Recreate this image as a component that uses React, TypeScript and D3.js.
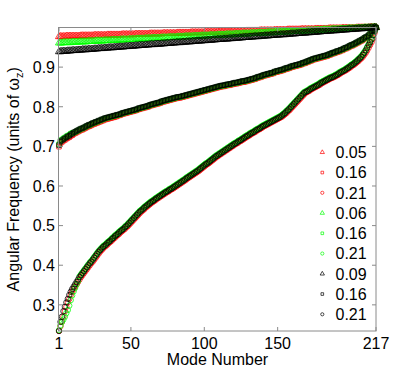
import React from 'react'
import * as d3 from 'd3'

// values are in units of 0.001 omega_z, one per mode (1..217)
const redTriangle = [
  977, 977, 977, 977, 977, 978, 978, 978, 978, 978, 978, 978, 978, 978, 978, 979, 979, 979, 979, 979,
  979, 979, 979, 979, 980, 980, 980, 980, 980, 980, 980, 980, 980, 981, 981, 981, 981, 981, 981, 981,
  981, 981, 981, 982, 982, 982, 982, 982, 982, 982, 982, 982, 983, 983, 983, 983, 983, 983, 983, 983,
  983, 983, 984, 984, 984, 984, 984, 984, 984, 984, 984, 985, 985, 985, 985, 985, 985, 985, 985, 985,
  985, 986, 986, 986, 986, 986, 986, 986, 986, 986, 987, 987, 987, 987, 987, 987, 987, 987, 987, 987,
  988, 988, 988, 988, 988, 988, 988, 988, 989, 989, 989, 989, 989, 989, 989, 989, 989, 989, 990, 990,
  990, 990, 990, 990, 990, 990, 990, 990, 991, 991, 991, 991, 991, 991, 991, 991, 991, 992, 992, 992,
  992, 992, 992, 992, 992, 992, 992, 993, 993, 993, 993, 993, 993, 993, 993, 993, 994, 994, 994, 994,
  994, 994, 994, 994, 994, 995, 995, 995, 995, 995, 995, 995, 995, 995, 995, 996, 996, 996, 996, 996,
  996, 996, 996, 996, 997, 997, 997, 997, 997, 997, 997, 997, 997, 998, 998, 998, 998, 998, 998, 998,
  998, 998, 998, 999, 999, 999, 999, 999, 999, 999, 999, 999, 1000, 1000, 1000, 1000, 1000,
]
const redSquare = [
  699, 708, 711, 714, 716, 719, 721, 723, 726, 728, 731, 733, 735, 737, 739, 741, 742, 744, 746, 748,
  750, 751, 753, 755, 756, 758, 759, 761, 762, 764, 765, 767, 768, 769, 770, 771, 772, 773, 774, 775,
  777, 778, 779, 781, 782, 783, 784, 785, 786, 787, 788, 789, 790, 791, 793, 794, 795, 796, 797, 798,
  799, 800, 802, 803, 804, 805, 806, 807, 808, 809, 811, 812, 813, 814, 815, 816, 817, 818, 819, 820,
  821, 822, 822, 823, 824, 825, 826, 827, 828, 829, 830, 831, 832, 833, 834, 835, 836, 837, 838, 839,
  840, 841, 842, 843, 844, 845, 846, 847, 848, 849, 850, 851, 851, 852, 853, 854, 854, 855, 856, 857,
  858, 858, 859, 860, 861, 862, 862, 863, 864, 865, 866, 867, 868, 869, 870, 872, 873, 874, 875, 877,
  878, 879, 880, 881, 882, 883, 884, 886, 887, 888, 889, 890, 891, 892, 894, 895, 896, 897, 899, 900,
  901, 902, 903, 904, 905, 906, 908, 909, 910, 912, 913, 915, 916, 918, 919, 920, 921, 922, 923, 924,
  925, 926, 927, 928, 930, 931, 933, 934, 935, 937, 938, 939, 941, 942, 944, 946, 947, 949, 951, 953,
  954, 956, 958, 960, 962, 964, 966, 968, 971, 973, 975, 978, 982, 987, 991, 995, 1000,
]
const redCircle = [
  234, 246, 257, 270, 284, 295, 306, 315, 325, 333, 340, 346, 352, 358, 364, 370, 375, 380, 385, 390,
  395, 400, 405, 409, 414, 419, 424, 429, 434, 438, 442, 446, 449, 452, 456, 459, 462, 466, 469, 473,
  476, 479, 483, 486, 489, 492, 496, 499, 503, 507, 511, 515, 519, 523, 527, 531, 535, 538, 541, 545,
  548, 551, 554, 557, 560, 562, 565, 568, 570, 573, 575, 578, 580, 583, 585, 587, 590, 592, 594, 597,
  599, 602, 604, 607, 609, 612, 614, 617, 620, 622, 625, 627, 630, 632, 635, 637, 640, 643, 646, 649,
  652, 655, 657, 660, 663, 666, 669, 672, 675, 677, 680, 682, 685, 687, 690, 692, 695, 697, 700, 702,
  705, 707, 709, 712, 714, 716, 719, 721, 724, 726, 728, 731, 733, 735, 737, 740, 742, 744, 746, 749,
  751, 753, 755, 757, 759, 761, 763, 765, 767, 769, 771, 773, 775, 778, 781, 784, 788, 791, 795, 799,
  803, 807, 811, 815, 819, 823, 827, 831, 835, 837, 839, 841, 844, 846, 848, 850, 852, 854, 856, 859,
  861, 863, 865, 867, 869, 871, 873, 874, 876, 878, 880, 882, 885, 887, 889, 891, 893, 896, 898, 901,
  904, 906, 909, 912, 915, 919, 922, 926, 931, 936, 942, 949, 956, 963, 972, 986, 1000,
]
const greenTriangle = [
  961, 961, 961, 962, 962, 962, 962, 962, 962, 963, 963, 963, 963, 963, 964, 964, 964, 964, 964, 964,
  965, 965, 965, 965, 965, 966, 966, 966, 966, 966, 966, 967, 967, 967, 967, 967, 968, 968, 968, 968,
  968, 968, 969, 969, 969, 969, 969, 969, 970, 970, 970, 970, 970, 971, 971, 971, 971, 971, 971, 972,
  972, 972, 972, 972, 973, 973, 973, 973, 973, 973, 974, 974, 974, 974, 974, 975, 975, 975, 975, 975,
  975, 976, 976, 976, 976, 976, 977, 977, 977, 977, 977, 977, 978, 978, 978, 978, 978, 979, 979, 979,
  979, 979, 979, 980, 980, 980, 980, 980, 981, 981, 981, 981, 981, 981, 982, 982, 982, 982, 982, 982,
  983, 983, 983, 983, 983, 984, 984, 984, 984, 984, 984, 985, 985, 985, 985, 985, 986, 986, 986, 986,
  986, 986, 987, 987, 987, 987, 987, 988, 988, 988, 988, 988, 988, 989, 989, 989, 989, 989, 990, 990,
  990, 990, 990, 990, 991, 991, 991, 991, 991, 992, 992, 992, 992, 992, 992, 993, 993, 993, 993, 993,
  994, 994, 994, 994, 994, 994, 995, 995, 995, 995, 995, 995, 996, 996, 996, 996, 996, 997, 997, 997,
  997, 997, 997, 998, 998, 998, 998, 998, 999, 999, 999, 999, 999, 999, 1000, 1000, 1000,
]
const greenSquare = [
  705, 714, 717, 720, 722, 725, 727, 729, 732, 734, 734, 736, 738, 740, 742, 744, 745, 747, 749, 751,
  753, 754, 756, 758, 759, 761, 762, 764, 765, 767, 768, 770, 771, 772, 773, 774, 775, 776, 777, 778,
  779, 780, 781, 783, 784, 785, 786, 787, 788, 789, 790, 791, 792, 793, 795, 796, 797, 798, 799, 800,
  801, 802, 804, 805, 806, 807, 808, 809, 810, 811, 813, 814, 815, 816, 817, 818, 819, 820, 821, 822,
  823, 824, 824, 825, 826, 827, 828, 829, 830, 831, 832, 833, 834, 835, 836, 837, 838, 839, 840, 841,
  842, 843, 844, 845, 846, 847, 848, 849, 850, 851, 852, 853, 853, 854, 855, 856, 856, 857, 858, 859,
  860, 860, 861, 862, 863, 864, 864, 865, 866, 867, 868, 869, 870, 871, 872, 874, 875, 876, 877, 879,
  880, 881, 882, 883, 884, 885, 886, 888, 889, 890, 891, 892, 893, 894, 896, 897, 898, 899, 901, 902,
  903, 904, 905, 906, 907, 908, 910, 911, 912, 914, 915, 917, 918, 920, 921, 922, 923, 924, 925, 926,
  927, 928, 929, 930, 932, 933, 935, 936, 937, 939, 940, 941, 943, 944, 946, 948, 949, 951, 953, 955,
  956, 958, 960, 962, 964, 966, 968, 970, 973, 975, 977, 980, 984, 989, 992, 996, 1000,
]
const greenCircle = [
  236, 248, 257, 263, 270, 279, 287, 298, 312, 324, 334, 343, 352, 360, 372, 377, 382, 387, 392, 397,
  402, 407, 411, 416, 421, 426, 431, 436, 440, 444, 448, 451, 454, 458, 461, 464, 468, 471, 475, 478,
  481, 485, 488, 491, 494, 498, 501, 505, 509, 513, 517, 521, 525, 529, 533, 537, 540, 543, 547, 550,
  553, 556, 559, 562, 564, 567, 570, 572, 575, 577, 580, 582, 585, 587, 589, 592, 594, 596, 599, 601,
  604, 606, 609, 611, 614, 616, 619, 622, 624, 627, 629, 632, 634, 637, 639, 642, 645, 648, 651, 654,
  657, 659, 662, 665, 668, 671, 674, 677, 679, 682, 684, 687, 689, 692, 694, 697, 699, 702, 704, 707,
  709, 711, 714, 716, 718, 721, 723, 726, 728, 730, 733, 735, 737, 739, 742, 744, 746, 748, 751, 753,
  755, 757, 759, 761, 763, 765, 767, 769, 771, 773, 775, 777, 780, 783, 786, 790, 793, 797, 801, 805,
  809, 813, 817, 821, 825, 829, 833, 837, 839, 841, 843, 846, 848, 850, 852, 854, 856, 858, 861, 863,
  865, 867, 869, 871, 873, 875, 876, 878, 880, 882, 884, 887, 889, 891, 893, 895, 898, 900, 903, 906,
  908, 911, 914, 917, 921, 924, 928, 933, 938, 944, 951, 958, 965, 972, 981, 991, 1000,
]
const blackTriangle = [
  939, 939, 940, 940, 940, 940, 941, 941, 941, 942, 942, 942, 942, 943, 943, 943, 944, 944, 944, 944,
  945, 945, 945, 945, 946, 946, 946, 947, 947, 947, 947, 948, 948, 948, 949, 949, 949, 949, 950, 950,
  950, 951, 951, 951, 951, 952, 952, 952, 953, 953, 953, 953, 954, 954, 954, 955, 955, 955, 955, 956,
  956, 956, 957, 957, 957, 957, 958, 958, 958, 958, 959, 959, 959, 960, 960, 960, 960, 961, 961, 961,
  962, 962, 962, 962, 963, 963, 963, 964, 964, 964, 964, 965, 965, 965, 966, 966, 966, 966, 967, 967,
  967, 968, 968, 968, 968, 969, 969, 969, 970, 970, 970, 970, 971, 971, 971, 971, 972, 972, 972, 973,
  973, 973, 973, 974, 974, 974, 975, 975, 975, 975, 976, 976, 976, 977, 977, 977, 977, 978, 978, 978,
  979, 979, 979, 979, 980, 980, 980, 981, 981, 981, 981, 982, 982, 982, 982, 983, 983, 983, 984, 984,
  984, 984, 985, 985, 985, 986, 986, 986, 986, 987, 987, 987, 988, 988, 988, 988, 989, 989, 989, 990,
  990, 990, 990, 991, 991, 991, 992, 992, 992, 992, 993, 993, 993, 994, 994, 994, 994, 995, 995, 995,
  995, 996, 996, 996, 997, 997, 997, 997, 998, 998, 998, 999, 999, 999, 999, 1000, 1000,
]
const blackSquare = [
  703, 712, 715, 718, 720, 723, 725, 727, 730, 732, 735, 737, 739, 741, 743, 745, 746, 748, 750, 752,
  754, 755, 757, 759, 760, 762, 763, 765, 766, 768, 769, 771, 772, 773, 774, 775, 776, 777, 778, 779,
  780, 781, 782, 784, 785, 786, 787, 788, 789, 790, 791, 792, 793, 794, 796, 797, 798, 799, 800, 801,
  802, 803, 805, 806, 807, 808, 809, 810, 811, 812, 814, 815, 816, 817, 818, 819, 820, 821, 822, 823,
  824, 825, 825, 826, 827, 828, 829, 830, 831, 832, 833, 834, 835, 836, 837, 838, 839, 840, 841, 842,
  843, 844, 845, 846, 847, 848, 849, 850, 851, 852, 853, 854, 854, 855, 856, 857, 857, 858, 859, 860,
  861, 861, 862, 863, 864, 865, 865, 866, 867, 868, 869, 870, 871, 872, 873, 875, 876, 877, 878, 880,
  881, 882, 883, 884, 885, 886, 887, 889, 890, 891, 892, 893, 894, 895, 897, 898, 899, 900, 902, 903,
  904, 905, 906, 907, 908, 909, 911, 912, 913, 915, 916, 918, 919, 921, 922, 923, 924, 925, 926, 927,
  928, 929, 930, 931, 933, 934, 936, 937, 938, 940, 941, 942, 944, 945, 947, 949, 950, 952, 954, 956,
  957, 959, 961, 963, 965, 967, 969, 971, 974, 976, 978, 981, 985, 990, 993, 996, 1000,
]
const blackCircle = [
  234, 257, 270, 284, 295, 306, 315, 325, 333, 340, 346, 352, 358, 364, 370, 375, 380, 385, 390, 395,
  400, 405, 409, 414, 419, 424, 429, 434, 438, 442, 446, 449, 452, 456, 459, 462, 466, 469, 473, 476,
  479, 483, 486, 489, 492, 496, 499, 503, 507, 511, 515, 519, 523, 527, 531, 535, 538, 541, 545, 548,
  551, 554, 557, 560, 562, 565, 568, 570, 573, 575, 578, 580, 583, 585, 587, 590, 592, 594, 597, 599,
  602, 604, 607, 609, 612, 614, 617, 620, 622, 625, 627, 630, 632, 635, 637, 640, 643, 646, 649, 652,
  655, 657, 660, 663, 666, 669, 672, 675, 677, 680, 682, 685, 687, 690, 692, 695, 697, 700, 702, 705,
  707, 709, 712, 714, 716, 719, 721, 724, 726, 728, 731, 733, 735, 737, 740, 742, 744, 746, 749, 751,
  753, 755, 757, 759, 761, 763, 765, 767, 769, 771, 773, 775, 778, 781, 784, 788, 791, 795, 799, 803,
  807, 811, 815, 819, 823, 827, 831, 835, 837, 839, 841, 844, 846, 848, 850, 852, 854, 856, 859, 861,
  863, 865, 867, 869, 871, 873, 874, 876, 878, 880, 882, 885, 887, 889, 891, 893, 896, 898, 901, 904,
  906, 909, 912, 915, 919, 922, 926, 931, 936, 942, 949, 956, 963, 970, 980, 990, 1000,
]

const legendLabels = ['0.05', '0.16', '0.21', '0.06', '0.16', '0.21', '0.09', '0.16', '0.21']
const xTicks = [1, 50, 100, 150, 217]
const yTicks = [0.3, 0.4, 0.5, 0.6, 0.7, 0.8, 0.9]

const series = [
  { color: '#ff0000', shape: 'triangle', values: redTriangle },
  { color: '#ff0000', shape: 'square', values: redSquare },
  { color: '#ff0000', shape: 'circle', values: redCircle },
  { color: '#00ff00', shape: 'triangle', values: greenTriangle },
  { color: '#00ff00', shape: 'square', values: greenSquare },
  { color: '#00ff00', shape: 'circle', values: greenCircle },
  { color: '#000000', shape: 'triangle', values: blackTriangle },
  { color: '#000000', shape: 'square', values: blackSquare },
  { color: '#000000', shape: 'circle', values: blackCircle },
]

const width = 415
const height = 372
const margin = { top: 27.5, right: 39, bottom: 41, left: 59 }
const font = '"Liberation Sans", Arial, Helvetica, sans-serif'
const axisColor = '#8a8a8a'

function symbolPath(shape: string, size: number) {
  const type =
    shape === 'triangle' ? d3.symbolTriangle : shape === 'square' ? d3.symbolSquare : d3.symbolCircle
  return d3.symbol().type(type).size(size)() as string
}

export default function App() {
  const x = d3
    .scaleLinear()
    .domain([1, 217])
    .range([margin.left, width - margin.right])
  const y = d3
    .scaleLinear()
    .domain([0.234, 1.0])
    .range([height - margin.bottom, margin.top])

  const x0 = margin.left
  const x1 = width - margin.right
  const y0 = height - margin.bottom
  const y1 = margin.top

  const plotSize: Record<string, number> = { triangle: 22, square: 20, circle: 23 }
  const legendSize: Record<string, number> = { triangle: 8, square: 7, circle: 8 }

  return (
    <svg
      width={width}
      height={height}
      style={{ position: 'fixed', left: 0, top: 0, display: 'block', background: '#fff' }}
      fontFamily={font}
    >
      {/* data markers */}
      {series.map((s, si) => {
        const p = symbolPath(s.shape, plotSize[s.shape])
        return (
          <g key={si} fill="none" stroke={s.color} strokeWidth={0.75}>
            {s.values.map((v, i) => (
              <path key={i} d={p} transform={`translate(${x(i + 1)},${y(v / 1000)})`} />
            ))}
          </g>
        )
      })}

      {/* box */}
      <rect
        x={x0 - 0.5}
        y={y1}
        width={x1 - x0 + 0.5}
        height={y0 - y1}
        fill="none"
        stroke={axisColor}
        strokeWidth={1}
      />

      {/* x ticks */}
      {xTicks.map((t) => (
        <g key={t}>
          <line x1={x(t)} x2={x(t)} y1={y0} y2={y0 - 4} stroke={axisColor} />
          <line x1={x(t)} x2={x(t)} y1={y1} y2={y1 + 4} stroke={axisColor} />
          <text x={x(t)} y={348.5} textAnchor="middle" fontSize={16} fill="#000">
            {t}
          </text>
        </g>
      ))}

      {/* y ticks */}
      {yTicks.map((t) => (
        <g key={t}>
          <line x1={x0} x2={x0 + 4} y1={y(t)} y2={y(t)} stroke={axisColor} />
          <line x1={x1} x2={x1 - 4} y1={y(t)} y2={y(t)} stroke={axisColor} />
          <text x={55} y={y(t) + 5.8} textAnchor="end" fontSize={16} fill="#000">
            {t.toFixed(1)}
          </text>
        </g>
      ))}

      {/* axis labels */}
      <text x={(x0 + x1) / 2} y={365} textAnchor="middle" fontSize={16} fill="#000">
        Mode Number
      </text>
      <text
        transform={`translate(18.5, ${(y0 + y1) / 2}) rotate(-90)`}
        textAnchor="middle"
        fontSize={16}
        fill="#000"
      >
        Angular Frequency (units of ω
        <tspan dy={4} fontSize={11}>
          z
        </tspan>
        <tspan dy={-4}>)</tspan>
      </text>

      {/* legend */}
      {series.map((s, i) => {
        const cy = 152.3 + i * 20.25
        return (
          <g key={'lg' + i}>
            <path
              d={symbolPath(s.shape, legendSize[s.shape])}
              transform={`translate(322.3,${cy})`}
              fill="none"
              stroke={s.color}
              strokeWidth={0.7}
            />
            <text x={335.5} y={cy + 5.8} fontSize={16} fill="#000">
              {legendLabels[i]}
            </text>
          </g>
        )
      })}
    </svg>
  )
}
